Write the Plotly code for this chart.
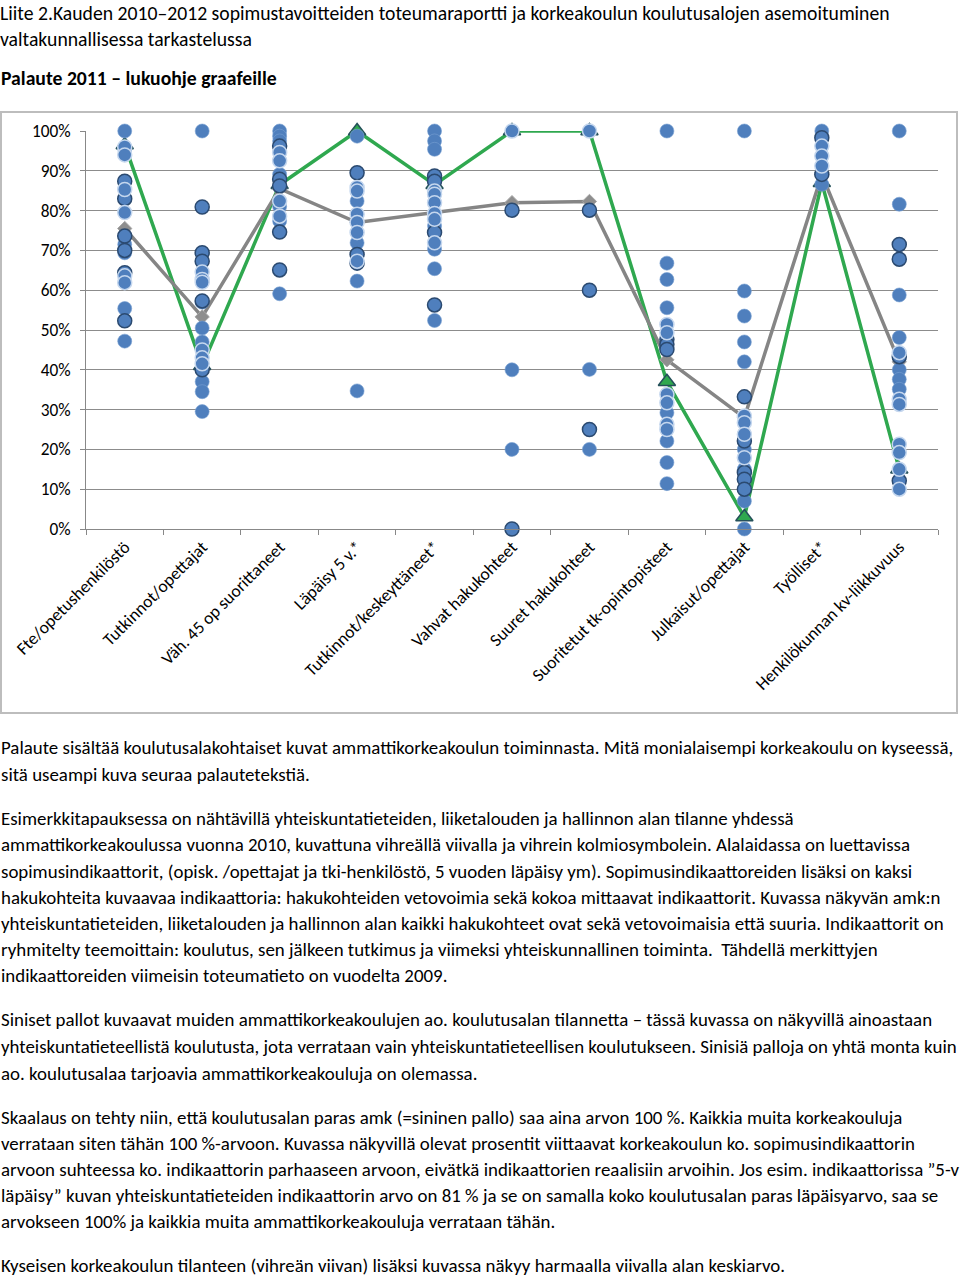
import plotly.graph_objects as go

W, H = 960, 1276
FONT = "Carlito, Calibri, Liberation Sans Narrow, Lato, sans-serif"

# ---------------- data ----------------
categories = [
    "Fte/opetushenkilöstö", "Tutkinnot/opettajat", "Väh. 45 op suorittaneet",
    "Läpäisy 5 v.*", "Tutkinnot/keskeyttäneet*", "Vahvat hakukohteet",
    "Suuret hakukohteet", "Suoritetut tk-opintopisteet", "Julkaisut/opettajat",
    "Työlliset*", "Henkilökunnan kv-liikkuvuus",
]

# this school (green line, triangles), share of best value
school_values = [0.965, 0.41, 0.865, 1.0, 0.865, 1.0, 1.0, 0.37, 0.03, 0.87, 0.15]
# field average (grey line, diamonds)
average_values = [0.755, 0.533, 0.855, 0.77, 0.795, 0.82, 0.823, 0.425, 0.28, 0.89, 0.42]

# other universities of applied sciences (blue dots), in percent, per category
plain_dots = [
    [100, 95.5, 71.5, 69.4, 55.4, 47.2],
    [100, 57, 50.5, 47, 37, 34.5, 29.5],
    [100, 98.7, 97.5, 89.1, 81, 77.4, 59.1],
    [98.7, 82.4, 71.9, 62.3, 34.7],
    [100, 97.5, 95.4, 76.1, 70.3, 65.4, 52.4],
    [40, 20],
    [40.1, 20],
    [100, 66.8, 62.7, 55.6, 29.2, 22.1, 16.7, 11.4],
    [100, 59.8, 53.5, 47, 42, 20, 15, 7, 0],
    [100, 86.6],
    [100, 81.6, 58.8, 48.1, 40, 37.6, 35.1],
]
dark_ring_dots = [
    [87.4, 83, 73.6, 70, 64.4, 52.3],
    [80.9, 69.4, 67.3, 57.3, 40],
    [96.2, 87.9, 86.2, 74.6, 65.1],
    [89.5, 69, 66.8],
    [88.7, 87.4, 74.5, 56.3],
    [80.1, 0],
    [80.1, 60, 25],
    [47.7, 46.4, 45.1],
    [33.2, 22.1, 14.2, 12.5, 10],
    [98.3, 89.1],
    [71.5, 67.8, 43.3, 12.1],
]
light_ring_dots = [
    [96, 94, 85.3, 79.5, 63.6, 61.9],
    [64.6, 62.7, 62, 45, 43, 41.5],
    [94.6, 92.5, 82.4, 78.6],
    [85.8, 84.9, 79.1, 77, 74.5, 67.3],
    [84.9, 84.1, 82, 79.3, 77.8, 71.9],
    [100],
    [100],
    [51.4, 49.3, 33.8, 31.7, 26.3, 25],
    [28.4, 26.7, 23.8, 17.9],
    [96.2, 93.7, 91.2],
    [44.3, 32.6, 31.3, 21.3, 19.2, 15, 10],
]

title_lines = [
    "Liite 2.Kauden 2010–2012 sopimustavoitteiden toteumaraportti ja korkeakoulun koulutusalojen asemoituminen",
    "valtakunnallisessa tarkastelussa",
]
subtitle = "Palaute 2011 – lukuohje graafeille"

body_lines = [
    "Palaute sisältää koulutusalakohtaiset kuvat ammattikorkeakoulun toiminnasta. Mitä monialaisempi korkeakoulu on kyseessä,",
    "sitä useampi kuva seuraa palautetekstiä.",
    "Esimerkkitapauksessa on nähtävillä yhteiskuntatieteiden, liiketalouden ja hallinnon alan tilanne yhdessä",
    "ammattikorkeakoulussa vuonna 2010, kuvattuna vihreällä viivalla ja vihrein kolmiosymbolein. Alalaidassa on luettavissa",
    "sopimusindikaattorit, (opisk. /opettajat ja tki-henkilöstö, 5 vuoden läpäisy ym). Sopimusindikaattoreiden lisäksi on kaksi",
    "hakukohteita kuvaavaa indikaattoria: hakukohteiden vetovoimia sekä kokoa mittaavat indikaattorit. Kuvassa näkyvän amk:n",
    "yhteiskuntatieteiden, liiketalouden ja hallinnon alan kaikki hakukohteet ovat sekä vetovoimaisia että suuria. Indikaattorit on",
    "ryhmitelty teemoittain: koulutus, sen jälkeen tutkimus ja viimeksi yhteiskunnallinen toiminta.  Tähdellä merkittyjen",
    "indikaattoreiden viimeisin toteumatieto on vuodelta 2009.",
    "Siniset pallot kuvaavat muiden ammattikorkeakoulujen ao. koulutusalan tilannetta – tässä kuvassa on näkyvillä ainoastaan",
    "yhteiskuntatieteellistä koulutusta, jota verrataan vain yhteiskuntatieteellisen koulutukseen. Sinisiä palloja on yhtä monta kuin",
    "ao. koulutusalaa tarjoavia ammattikorkeakouluja on olemassa.",
    "Skaalaus on tehty niin, että koulutusalan paras amk (=sininen pallo) saa aina arvon 100 %. Kaikkia muita korkeakouluja",
    "verrataan siten tähän 100 %-arvoon. Kuvassa näkyvillä olevat prosentit viittaavat korkeakoulun ko. sopimusindikaattorin",
    "arvoon suhteessa ko. indikaattorin parhaaseen arvoon, eivätkä indikaattorien reaalisiin arvoihin. Jos esim. indikaattorissa ”5-v",
    "läpäisy” kuvan yhteiskuntatieteiden indikaattorin arvo on 81 % ja se on samalla koko koulutusalan paras läpäisyarvo, saa se",
    "arvokseen 100% ja kaikkia muita ammattikorkeakouluja verrataan tähän.",
    "Kyseisen korkeakoulun tilanteen (vihreän viivan) lisäksi kuvassa näkyy harmaalla viivalla alan keskiarvo.",
]
body_line_y = [748, 774, 818, 844, 871, 897, 923, 949, 975, 1020, 1046, 1073,
               1117, 1143, 1169, 1195, 1221, 1265]

# ---------------- layout helpers ----------------
def px(x):
    return x / W

def py(y):
    return 1 - y / H

PLOT_L, PLOT_R, PLOT_T, PLOT_B = 86, 938, 131, 529


def flatten(groups):
    xs, ys = [], []
    for cat, vals in zip(categories, groups):
        for v in vals:
            xs.append(cat)
            ys.append(v / 100.0)
    return xs, ys


fig = go.Figure()

fig.add_trace(go.Scatter(
    x=categories, y=school_values, mode="lines+markers",
    line=dict(color="#2FA84F", width=3.5),
    marker=dict(symbol="triangle-up", size=15, color="#2FA84F",
                line=dict(color="#25505A", width=1.5)),
    cliponaxis=False, showlegend=False,
))
fig.add_trace(go.Scatter(
    x=categories, y=average_values, mode="lines+markers",
    line=dict(color="#858585", width=3.5),
    marker=dict(symbol="diamond", size=11, color="#8E8E8E",
                line=dict(color="#A8A8A8", width=1)),
    cliponaxis=False, showlegend=False,
))

for groups, ring, rw in [
    (plain_dots, "rgba(120,160,210,0.6)", 1),
    (dark_ring_dots, "#2B4A70", 1.5),
    (light_ring_dots, "#C5D7EE", 1.5),
]:
    xs, ys = flatten(groups)
    fig.add_trace(go.Scatter(
        x=xs, y=ys, mode="markers",
        marker=dict(symbol="circle", size=14, color="#4F7FBD",
                    line=dict(color=ring, width=rw)),
        cliponaxis=False, showlegend=False,
    ))

annotations = []
annotations.append(dict(text="<br>".join(title_lines), x=px(-1), y=1.0, xref="paper",
                        yref="paper", xanchor="left", yanchor="top", align="left",
                        showarrow=False, borderpad=0,
                        font=dict(family=FONT, size=19.7, color="#000")))
annotations.append(dict(text="<b>" + subtitle + "</b>", x=px(-1), y=py(78), xref="paper",
                        yref="paper", xanchor="left", yanchor="middle", showarrow=False,
                        font=dict(family=FONT, size=19.7, color="#000")))
for t, yy in zip(body_lines, body_line_y):
    annotations.append(dict(text=t, x=px(-1), y=py(yy), xref="paper", yref="paper",
                            xanchor="left", yanchor="middle", showarrow=False,
                            font=dict(family=FONT, size=18.9, color="#000")))

fig.update_layout(
    width=W, height=H,
    margin=dict(l=0, r=0, t=0, b=0, autoexpand=False),
    paper_bgcolor="white", plot_bgcolor="white",
    font=dict(family=FONT, color="#000"),
    annotations=annotations,
    shapes=[dict(type="rect", xref="paper", yref="paper",
                 x0=px(1), x1=px(957), y0=py(713), y1=py(112),
                 line=dict(color="#BDBDBD", width=2), fillcolor="rgba(0,0,0,0)",
                 layer="below")],
    xaxis=dict(
        domain=[px(PLOT_L), px(PLOT_R)],
        type="category", categoryorder="array", categoryarray=categories,
        range=[-0.5, len(categories) - 0.5], automargin=False,
        tickson="boundaries", ticks="outside", ticklen=5, tickcolor="#888",
        showgrid=False, showline=True, linecolor="#888", linewidth=1,
        tickangle=-45, tickfont=dict(family=FONT, size=17.5, color="#000"),
        zeroline=False, fixedrange=True,
    ),
    yaxis=dict(
        domain=[py(PLOT_B), py(PLOT_T)], automargin=False,
        range=[0, 1], dtick=0.1, tick0=0, tickformat=".0%",
        showgrid=True, gridcolor="#8C8C8C", gridwidth=1,
        showline=True, linecolor="#888", linewidth=1,
        ticks="outside", ticklen=5, tickcolor="#888",
        tickfont=dict(family=FONT, size=17.3, color="#000"),
        ticklabelstandoff=6,
        zeroline=False, fixedrange=True,
    ),
)

fig.write_html(
    "out.html",
    config={"displayModeBar": False},
    post_script="document.body.style.margin='0';document.body.style.overflow='hidden';",
)
